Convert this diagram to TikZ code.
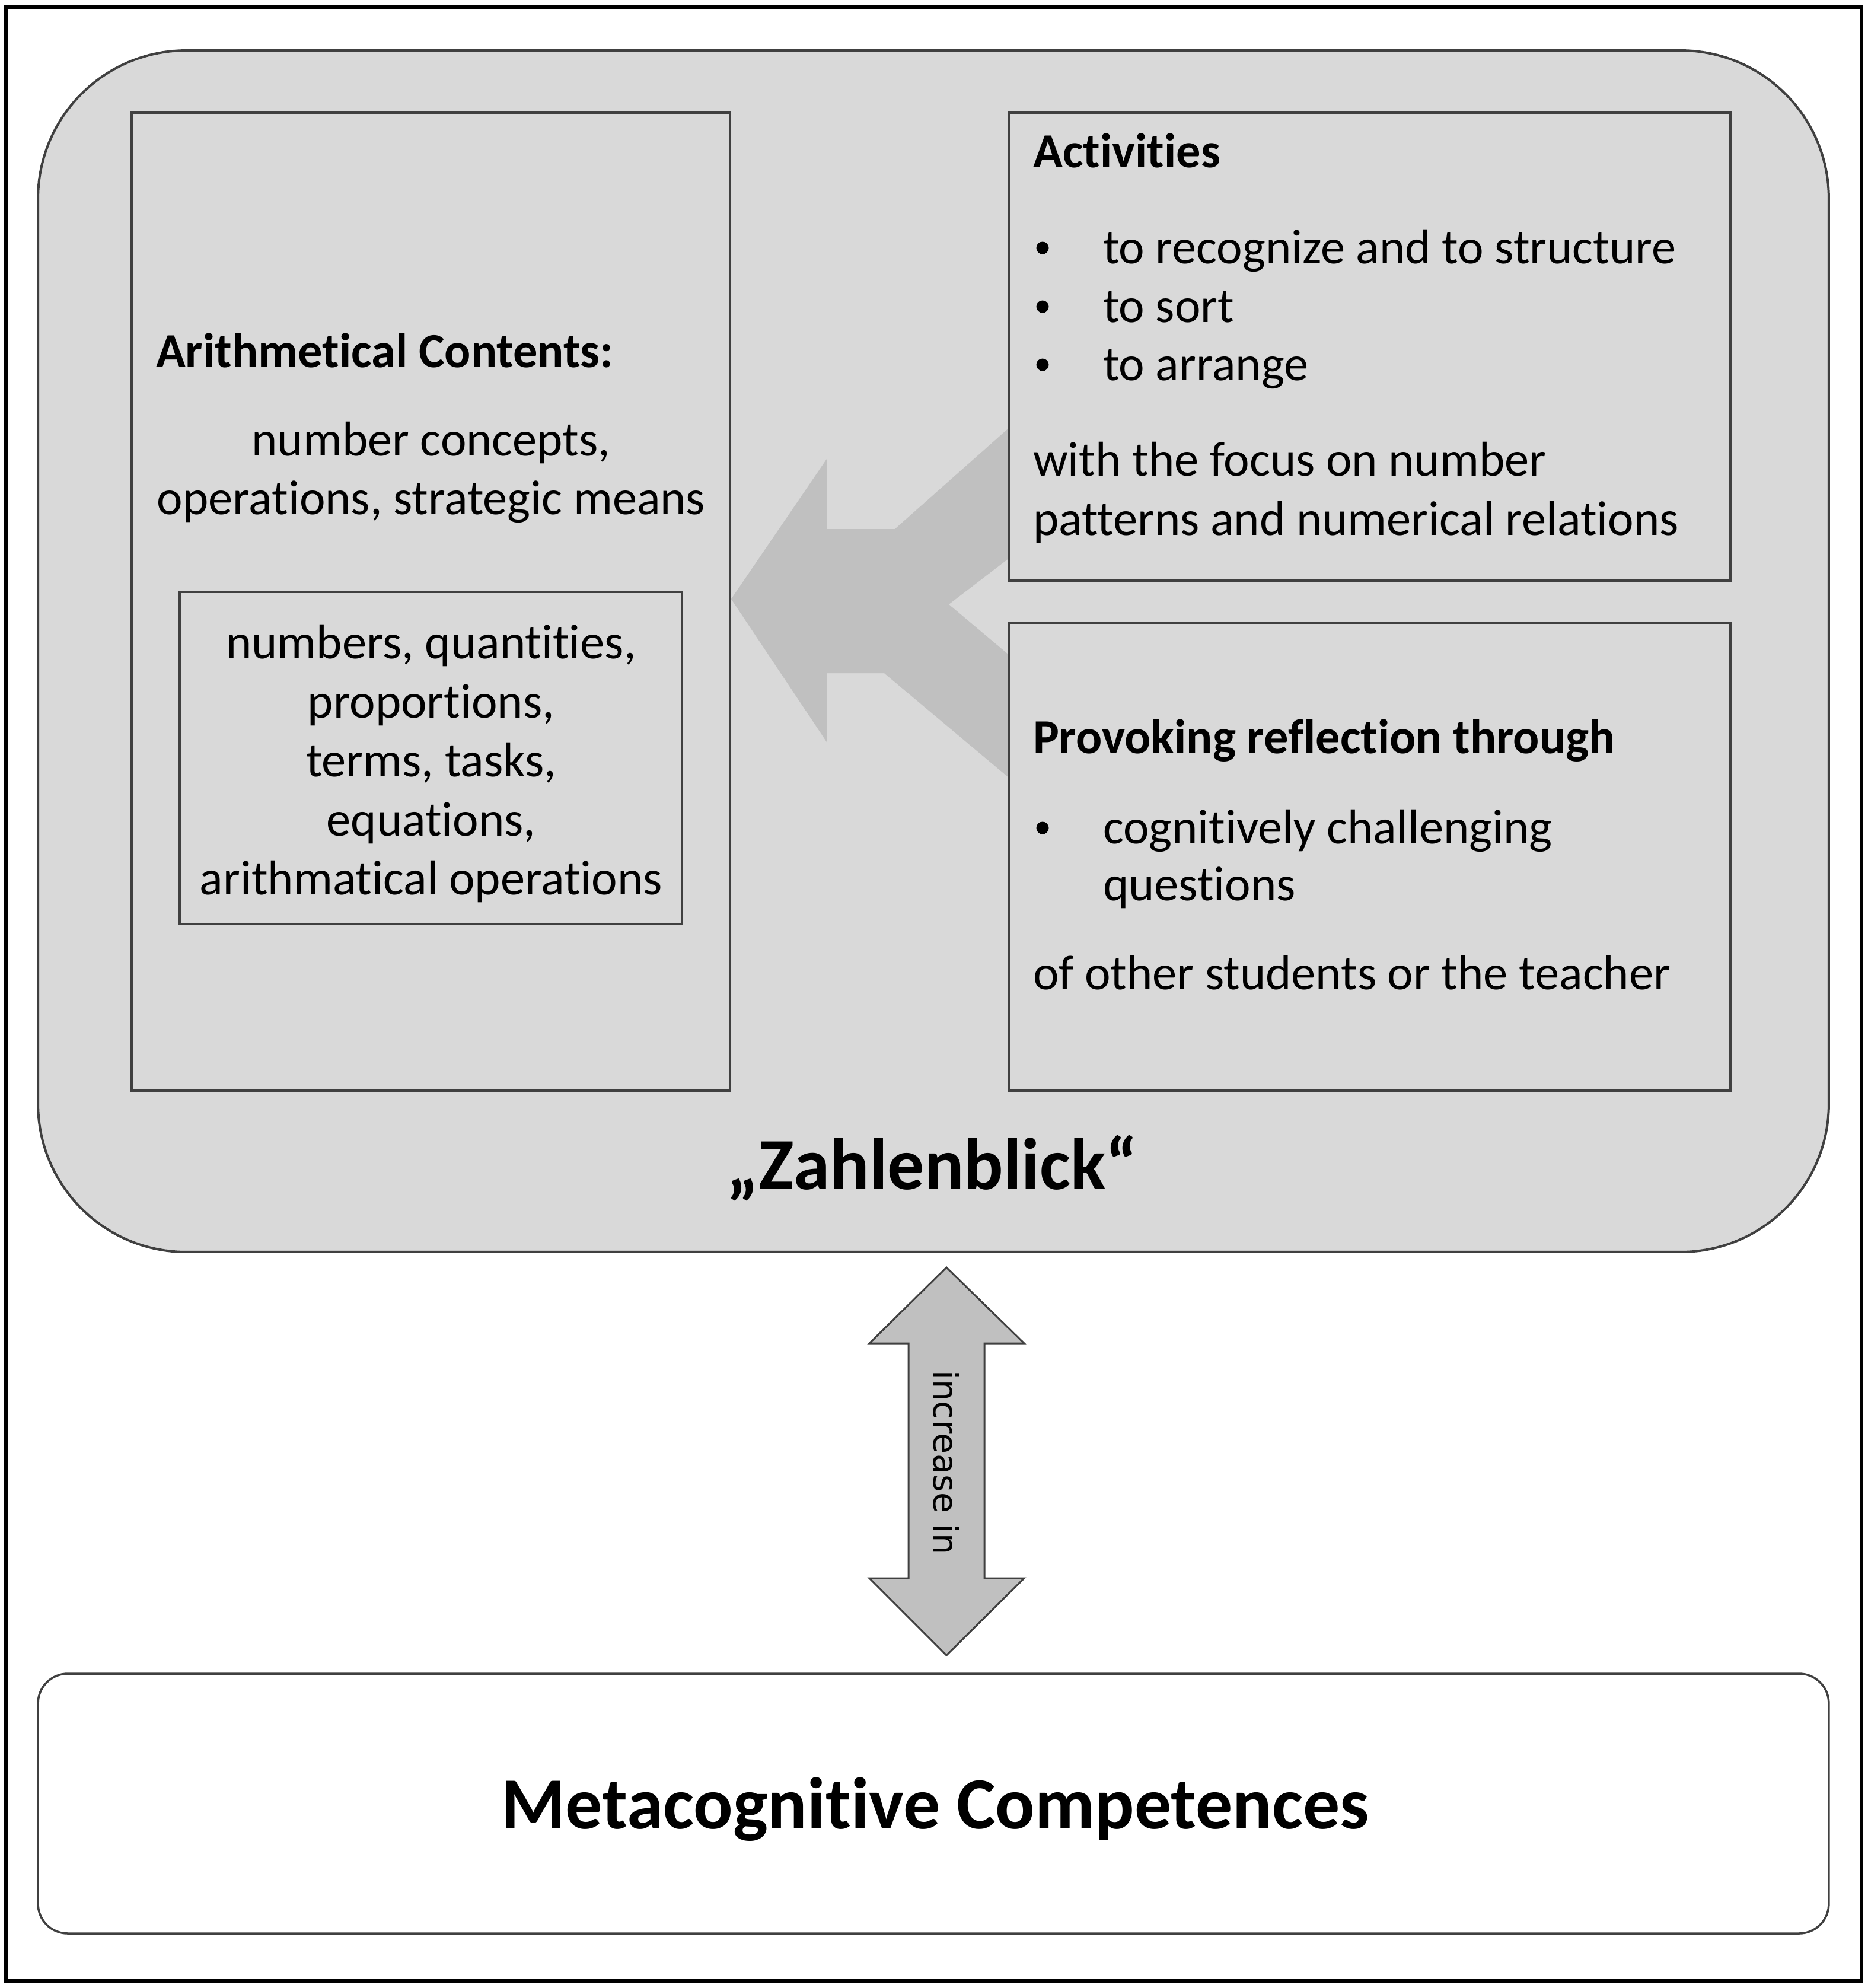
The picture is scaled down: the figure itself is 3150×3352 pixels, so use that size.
\documentclass[tikz,border=0pt]{standalone}
\usepackage{fontspec}
\setmainfont{Carlito}[Ligatures={NoCommon}]
\newfontfamily\arrowfont{DejaVu Sans}
\definecolor{panel}{HTML}{D9D9D9}
\definecolor{bigarrow}{HTML}{C0C0C0}
\definecolor{edge}{HTML}{404040}
\tikzset{
  box/.style={draw=edge, fill=panel, line width=0.4pt, inner sep=0pt, outer sep=0pt},
  txt/.style={inner sep=0pt, outer sep=0pt, anchor=base west, font=\fontsize{8.25}{9.9}\selectfont},
  ctxt/.style={txt, anchor=base},
  btxt/.style={txt, font=\fontsize{8.25}{9.9}\selectfont\bfseries},
  bul/.style={circle, fill=black, inner sep=0pt, outer sep=0pt, minimum size=2.1pt},
}
\begin{document}
\begin{tikzpicture}[x=0.1pt,y=-0.1pt]
\useasboundingbox (0,0) rectangle (3150,3352);
\fill[white] (0,0) rectangle (3150,3352);
\draw[line width=0.55pt, black] (10,12) rectangle (3139,3340);

% Zahlenblick panel
\node[draw=edge, fill=panel, line width=0.4pt, rounded corners=25pt, minimum width=302pt, minimum height=202.6pt, inner sep=0pt] (zahl) at (1574,1098) {};

% big grey arrow
\fill[bigarrow] (1233,1010) -- (1394,774) -- (1394,892) -- (1509,892) -- (1720,705) -- (1720,927) -- (1600,1019) -- (1720,1120) -- (1720,1327) -- (1491,1135) -- (1394,1135) -- (1394,1251) -- cycle;

% boxes
\node[box, minimum width=100.9pt, minimum height=164.9pt] (arith) at (726.5,1014.5) {};
\node[box, minimum width=84.7pt, minimum height=56pt] (inner) at (726.5,1278) {};
\node[box, minimum width=121.6pt, minimum height=78.9pt] (act) at (2310,584.5) {};
\node[box, minimum width=121.6pt, minimum height=78.9pt] (prov) at (2310,1444.5) {};

% arithmetical contents
\node[btxt] (arh) at (263,619) {Arithmetical Contents:};
\node[ctxt] (ar1) at (727,768) {number concepts,};
\node[ctxt] (ar2) at (727,867) {operations, strategic means};
\node[ctxt] (in1) at (727,1110) {numbers, quantities,};
\node[ctxt] (in2) at (727,1210) {proportions,};
\node[ctxt] (in3) at (727,1309) {terms, tasks,};
\node[ctxt] (in4) at (727,1409) {equations,};
\node[ctxt] (in5) at (727,1508) {arithmatical operations};

% activities
\node[btxt] (ach) at (1742,282) {Activities};
\node[bul] (ab1) at (1758,418) {};
\node[txt] (a1) at (1860,444) {to recognize and to structure};
\node[bul] (ab2) at (1758,517) {};
\node[txt] (a2) at (1860,543) {to sort};
\node[bul] (ab3) at (1758,615) {};
\node[txt] (a3) at (1860,641) {to arrange};
\node[txt] (a4) at (1742,802) {with the focus on number};
\node[txt] (a5) at (1742,902) {patterns and numerical relations};

% provoking
\node[btxt] (prh) at (1742,1270) {Provoking reflection through};
\node[bul] (pb1) at (1758,1396) {};
\node[txt] (p1) at (1860,1422) {cognitively challenging};
\node[txt] (p2) at (1860,1518) {questions};
\node[txt] (p3) at (1742,1668) {of other students or the teacher};

% Zahlenblick label
\node[inner sep=0pt, anchor=base, font=\fontsize{12.4}{14}\selectfont\bfseries] (zl) at (1572,2005) {„Zahlenblick“};

% metacognitive box
\node[draw=edge, fill=white, line width=0.35pt, rounded corners=5pt, minimum width=302pt, minimum height=43.8pt, inner sep=0pt] (meta) at (1574,3041) {};
\node[inner sep=0pt, anchor=base, font=\fontsize{12.4}{14}\selectfont\bfseries] (ml) at (1577,3083) {Metacognitive Competences};

% double arrow
\draw[draw=edge, fill=bigarrow, line width=0.3pt, line join=miter] (1596,2137) -- (1727,2265) -- (1660,2265) -- (1660,2661) -- (1727,2661) -- (1596,2791) -- (1466,2661) -- (1532,2661) -- (1532,2265) -- (1466,2265) -- cycle;
\node[inner sep=0pt, rotate=-90, font=\arrowfont\fontsize{5.7}{7}\selectfont] (inc) at (1596,2466) {increase in};
\end{tikzpicture}
\end{document}
